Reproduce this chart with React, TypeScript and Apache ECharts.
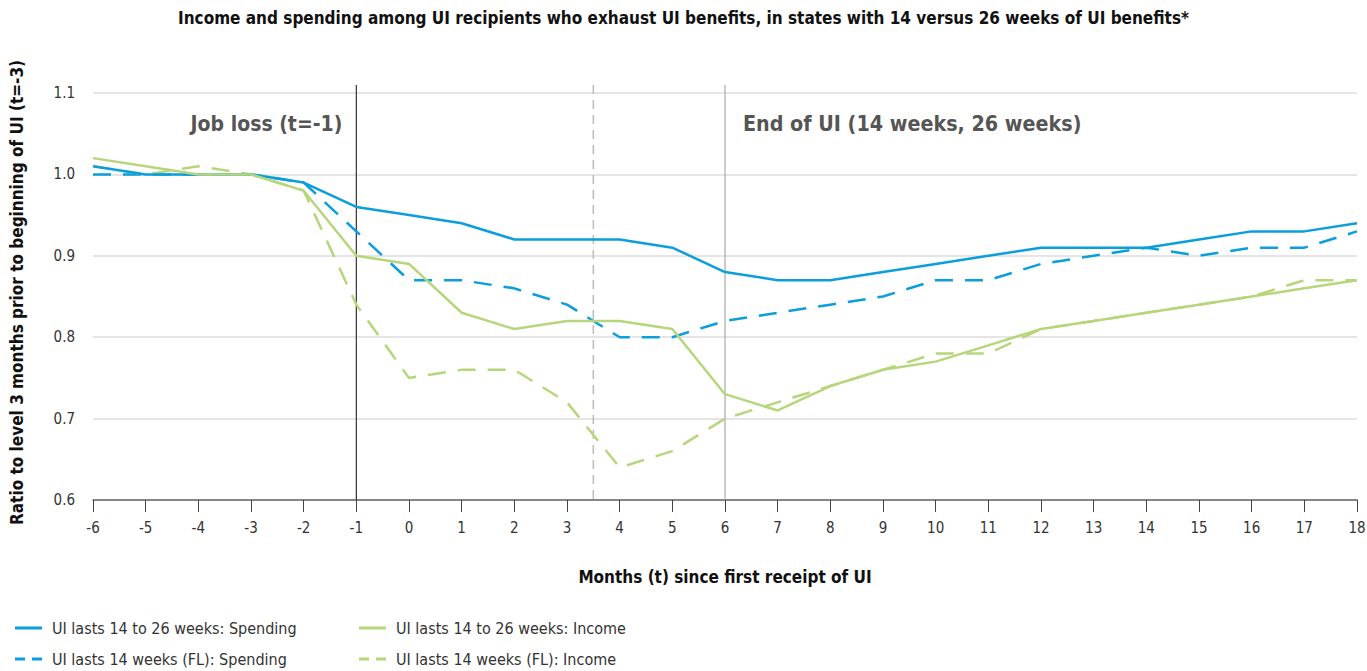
import React, { useEffect, useRef } from "react";
import * as echarts from "echarts";

const months = [-6, -5, -4, -3, -2, -1, 0, 1, 2, 3, 4, 5, 6, 7, 8, 9, 10, 11, 12, 13, 14, 15, 16, 17, 18];
const spending1426 = [1.01, 1.0, 1.0, 1.0, 0.99, 0.96, 0.95, 0.94, 0.92, 0.92, 0.92, 0.91, 0.88, 0.87, 0.87, 0.88, 0.89, 0.9, 0.91, 0.91, 0.91, 0.92, 0.93, 0.93, 0.94];
const spendingFL = [1.0, 1.0, 1.0, 1.0, 0.99, 0.93, 0.87, 0.87, 0.86, 0.84, 0.8, 0.8, 0.82, 0.83, 0.84, 0.85, 0.87, 0.87, 0.89, 0.9, 0.91, 0.9, 0.91, 0.91, 0.93];
const income1426 = [1.02, 1.01, 1.0, 1.0, 0.98, 0.9, 0.89, 0.83, 0.81, 0.82, 0.82, 0.81, 0.73, 0.71, 0.74, 0.76, 0.77, 0.79, 0.81, 0.82, 0.83, 0.84, 0.85, 0.86, 0.87];
const incomeFL = [1.01, 1.0, 1.01, 1.0, 0.98, 0.84, 0.75, 0.76, 0.76, 0.72, 0.64, 0.66, 0.7, 0.72, 0.74, 0.76, 0.78, 0.78, 0.81, 0.82, 0.83, 0.84, 0.85, 0.87, 0.87];
const seriesNames = [
  "UI lasts 14 to 26 weeks: Spending",
  "UI lasts 14 weeks (FL): Spending",
  "UI lasts 14 to 26 weeks: Income",
  "UI lasts 14 weeks (FL): Income",
];
const eventLines = [-1, 3.5, 6];
const eventLabels = ["Job loss (t=-1)", "End of UI (14 weeks, 26 weeks)"];

const BLUE = "#0a9fdc";
const GREEN = "#b7d67b";
const FONT = "'Liberation Sans Narrow', 'DejaVu Sans Condensed', 'Open Sans', sans-serif";
const SOLID_ICON = "path://M0,0H27V3H0Z";
const DASH_ICON = "path://M0,0H10V3H0Z M17,0H27V3H17Z";

export default function App() {
  const ref = useRef<HTMLDivElement>(null);
  useEffect(() => {
    if (!ref.current) return;
    const chart = echarts.init(ref.current, undefined, { renderer: "svg" });
    const pair = (arr: number[]) => months.map((m, i) => [m, arr[i]]);
    const dash = [18, 12];
    const legendText = { fontFamily: FONT, fontSize: 16, color: "#333", padding: [0, 0, 0, 5] };
    const legendPos = [
      [10, 625],
      [10, 656],
      [354, 625],
      [354, 656],
    ];
    const icons = [SOLID_ICON, DASH_ICON, SOLID_ICON, DASH_ICON];
    chart.setOption({
      animation: false,
      textStyle: { fontFamily: FONT },
      title: {
        text: "Income and spending among UI recipients who exhaust UI benefits, in states with 14 versus 26 weeks of UI benefits*",
        left: "center",
        top: 4,
        textStyle: { fontFamily: FONT, fontSize: 17, fontWeight: "bold", color: "#111" },
      },
      grid: { left: 93, right: 10, top: 93, bottom: 171, containLabel: false, outerBoundsMode: "none" },
      xAxis: {
        type: "value",
        min: -6,
        max: 18,
        interval: 1,
        name: "Months (t) since first receipt of UI",
        nameLocation: "middle",
        nameGap: 68,
        nameTextStyle: { fontFamily: FONT, fontSize: 17, fontWeight: "bold", color: "#111" },
        axisLine: { lineStyle: { color: "#666", width: 1.5 } },
        axisTick: { show: true, length: 12, lineStyle: { color: "#444" } },
        axisLabel: { margin: 20, fontFamily: FONT, fontSize: 15, color: "#333" },
        splitLine: { show: false },
      },
      yAxis: {
        type: "value",
        min: 0.6,
        max: 1.1,
        interval: 0.1,
        name: "Ratio to level 3 months prior to beginning of UI (t=-3)",
        nameLocation: "middle",
        nameGap: 68,
        nameTextStyle: { fontFamily: FONT, fontSize: 17, fontWeight: "bold", color: "#111", padding: [0, 0, 0, 8] },
        axisLine: { show: false },
        axisTick: { show: false },
        axisLabel: { margin: 18, fontFamily: FONT, fontSize: 15, color: "#333", formatter: (v: number) => v.toFixed(1) },
        splitLine: { lineStyle: { color: "#dcdcdc", width: 1.5 } },
      },
      legend: seriesNames.map((n, i) => ({
        left: legendPos[i][0],
        top: legendPos[i][1] - 10,
        height: 20,
        itemWidth: 27,
        itemHeight: 3,
        textStyle: legendText,
        data: [{ name: n, icon: icons[i] }],
      })),
      series: [
        { name: seriesNames[0], type: "line", data: pair(spending1426), symbol: "none", color: BLUE, lineStyle: { color: BLUE, width: 2.5 }, z: 4 },
        { name: seriesNames[1], type: "line", data: pair(spendingFL), symbol: "none", color: BLUE, lineStyle: { color: BLUE, width: 2.5, type: dash }, z: 3 },
        { name: seriesNames[2], type: "line", data: pair(income1426), symbol: "none", color: GREEN, lineStyle: { color: GREEN, width: 2.5 }, z: 4 },
        { name: seriesNames[3], type: "line", data: pair(incomeFL), symbol: "none", color: GREEN, lineStyle: { color: GREEN, width: 2.5, type: dash }, z: 3 },
      ],
    });

    const bottom = chart.convertToPixel({ gridIndex: 0 }, [-6, 0.6]) as number[];
    const top = chart.convertToPixel({ gridIndex: 0 }, [-6, 1.1]) as number[];
    const yTop = top[1] - 8;
    const xs = eventLines.map((v) => (chart.convertToPixel({ gridIndex: 0 }, [v, 0.6]) as number[])[0]);
    const labelY = (chart.convertToPixel({ gridIndex: 0 }, [0, 1.062]) as number[])[1];
    const lineStyles = [
      { stroke: "#333", lineWidth: 1.2 },
      { stroke: "#bbb", lineWidth: 1.5, lineDash: [9, 6] },
      { stroke: "#a8a8a8", lineWidth: 1.2 },
    ];
    chart.setOption({
      graphic: [
        ...xs.map((x, i) => ({
          type: "line",
          z: 2,
          shape: { x1: x, y1: yTop, x2: x, y2: bottom[1] },
          style: lineStyles[i],
        })),
        {
          type: "text",
          x: xs[0] - 14,
          y: labelY,
          style: { text: eventLabels[0], align: "right", verticalAlign: "middle", font: `bold 21px ${FONT}`, fill: "#555" },
        },
        {
          type: "text",
          x: xs[2] + 18,
          y: labelY,
          style: { text: eventLabels[1], align: "left", verticalAlign: "middle", font: `bold 21.3px ${FONT}`, fill: "#555" },
        },
      ],
    });
    return () => chart.dispose();
  }, []);
  return <div ref={ref} style={{ position: "absolute", left: 0, top: 0, width: 1367, height: 671 }} />;
}
